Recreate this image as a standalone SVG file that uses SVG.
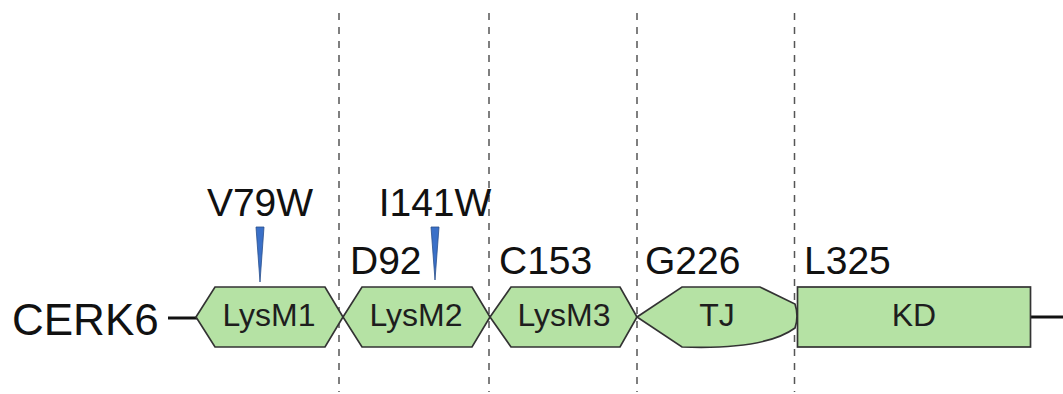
<svg xmlns="http://www.w3.org/2000/svg" width="1063" height="394" viewBox="0 0 1063 394">
<style>
.dom{fill:#b5e2a4;stroke:#333;stroke-width:1.7;stroke-linejoin:miter}
.dl{fill:#1e1e1e;font-family:"Liberation Sans",Arial,sans-serif;font-size:32px;text-anchor:middle}
.lab{fill:#111;font-family:"Liberation Sans",Arial,sans-serif;font-size:39px}
.mid{text-anchor:middle}
.dash{stroke:#555;stroke-width:1.5;stroke-dasharray:7 7}
.mut{fill:#3a70c8;stroke:#2a4f8a;stroke-width:0.8}
.bb{stroke:#111;stroke-width:3}
</style>
<rect width="1063" height="394" fill="#fff"/>
<g id="guides">
<line class="dash" x1="339" y1="13" x2="339" y2="392"/>
<line class="dash" x1="489" y1="13" x2="489" y2="392"/>
<line class="dash" x1="637" y1="13" x2="637" y2="392"/>
<line class="dash" x1="794.5" y1="13" x2="794.5" y2="392"/>
</g>
<g id="connectors">
<line class="bb" x1="168" y1="318" x2="197" y2="318"/>
<line class="bb" x1="1031" y1="317" x2="1063" y2="317"/>
</g>
<text class="lab" x="12" y="335" style="font-size:44px">CERK6</text>
<g id="LysM1">
<polygon class="dom" points="196,317 215,287 325,287 343,317 325,347 215,347"/>
<text class="dl" x="269" y="326">LysM1</text>
</g>
<g id="LysM2">
<polygon class="dom" points="343,317 362,287 472,287 490,317 472,347 362,347"/>
<text class="dl" x="416" y="326">LysM2</text>
</g>
<g id="LysM3">
<polygon class="dom" points="490,317 511,287 620,287 637,317 620,347 511,347"/>
<text class="dl" x="564" y="326">LysM3</text>
</g>
<g id="TJ">
<path class="dom" d="M637,317 L682,287 L760,287 L795,304 Q799,316 795,328 Q765,350 682,347 Z"/>
<text class="dl" x="717" y="326">TJ</text>
</g>
<g id="KD">
<rect class="dom" x="797.5" y="287" width="233" height="60"/>
<text class="dl" x="914" y="326">KD</text>
</g>
<g id="labels">
<text class="lab mid" x="260" y="216">V79W</text>
<text class="lab mid" x="435" y="216">I141W</text>
<text class="lab" x="350" y="274">D92</text>
<text class="lab" x="499" y="274">C153</text>
<text class="lab" x="645" y="274">G226</text>
<text class="lab" x="804" y="274">L325</text>
</g>
<g id="mutations">
<polygon class="mut" points="256,227 264,227 260,282"/>
<polygon class="mut" points="431,227 439,227 435,280"/>
</g>
</svg>
